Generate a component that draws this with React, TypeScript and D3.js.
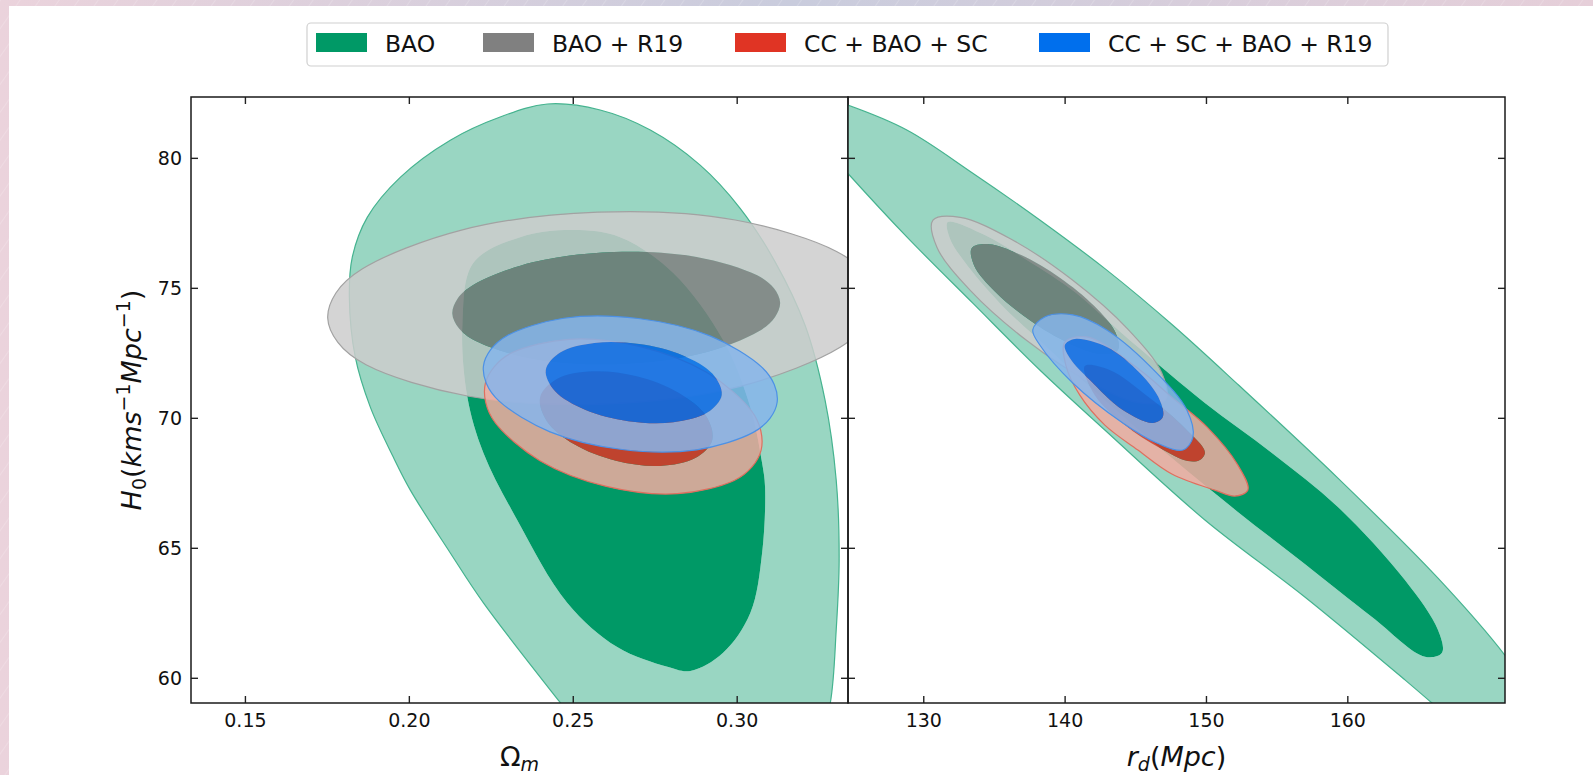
import React from 'react';
import * as d3 from 'd3';

// contour vertices: [x, H0]
// left panel, x = Omega_m
const omBaoOuter = [[0.2421,82.09],[0.2582,81.86],[0.2735,81.09],[0.2887,79.74],[0.3009,78.08],[0.3116,76.01],[0.3207,73.58],[0.3268,70.70],[0.3302,67.63],[0.3311,64.55],[0.3302,61.86],[0.3284,59.05],[0.3238,56.87],[0.3070,55.32],[0.2826,55.32],[0.2613,56.67],[0.2460,59.07],[0.2226,62.90],[0.2125,64.82],[0.2003,67.24],[0.1951,68.51],[0.1881,70.43],[0.1835,72.36],[0.1817,74.67],[0.1826,76.20],[0.1872,77.74],[0.1973,79.28],[0.2125,80.70],[0.2277,81.59]];
const omBaoInner = [[0.2500,77.24],[0.2643,76.97],[0.2805,75.59],[0.2957,73.01],[0.3040,70.43],[0.3076,68.28],[0.3085,67.36],[0.3076,64.82],[0.3040,62.51],[0.2957,60.98],[0.2857,60.28],[0.2787,60.44],[0.2634,61.20],[0.2482,62.90],[0.2329,66.09],[0.2226,68.67],[0.2177,70.82],[0.2162,73.66],[0.2195,75.97],[0.2338,76.97]];
const omR19Outer = [[0.3420,74.63],[0.3395,73.66],[0.3314,72.73],[0.3012,71.24],[0.2596,70.55],[0.2177,70.86],[0.1868,72.06],[0.1782,72.92],[0.1751,73.86],[0.1776,74.82],[0.1857,75.75],[0.2159,77.24],[0.2575,77.93],[0.2994,77.63],[0.3303,76.42],[0.3389,75.57]];
const omR19Inner = [[0.3131,74.45],[0.3115,73.89],[0.3066,73.35],[0.2886,72.48],[0.2637,72.09],[0.2386,72.27],[0.2201,72.98],[0.2150,73.48],[0.2131,74.03],[0.2147,74.60],[0.2196,75.14],[0.2376,76.00],[0.2625,76.40],[0.2876,76.21],[0.3061,75.50],[0.3112,75.00]];
const omCbsOuter = [[0.3073,68.78],[0.3045,68.13],[0.2991,67.61],[0.2818,67.10],[0.2601,67.38],[0.2397,68.38],[0.2262,69.83],[0.2233,70.61],[0.2232,71.35],[0.2260,72.00],[0.2314,72.53],[0.2487,73.04],[0.2704,72.76],[0.2908,71.76],[0.3043,70.30],[0.3072,69.53]];
const omCbsInner = [[0.2924,69.17],[0.2872,68.47],[0.2765,68.17],[0.2630,68.37],[0.2503,69.00],[0.2419,69.90],[0.2399,70.82],[0.2451,71.52],[0.2558,71.81],[0.2694,71.62],[0.2820,70.99],[0.2905,70.09]];
const omAllOuter = [[0.3122,70.63],[0.3100,70.00],[0.3049,69.46],[0.2876,68.79],[0.2649,68.80],[0.2429,69.48],[0.2274,70.66],[0.2235,71.34],[0.2226,72.01],[0.2248,72.64],[0.2298,73.18],[0.2471,73.85],[0.2698,73.84],[0.2919,73.16],[0.3074,71.98],[0.3113,71.30]];
const omAllInner = [[0.2953,70.90],[0.2909,70.22],[0.2805,69.85],[0.2668,69.89],[0.2536,70.33],[0.2444,71.05],[0.2416,71.85],[0.2460,72.53],[0.2564,72.90],[0.2701,72.86],[0.2833,72.43],[0.2925,71.71]];

// right panel, x = r_d (Mpc)
const rdBaoOuter = [[120.38,82.28],[122.29,82.43],[124.62,82.05],[128.80,81.09],[133.47,79.43],[138.21,77.63],[142.95,75.70],[147.62,73.58],[152.29,71.27],[159.30,67.70],[166.38,63.85],[171.12,60.88],[174.66,58.02],[177.84,55.32],[170.76,56.83],[165.95,59.05],[164.04,59.94],[156.96,63.13],[149.89,66.09],[142.81,69.55],[138.21,71.86],[133.47,74.43],[128.80,76.98],[124.62,79.43],[121.93,81.09]];
const rdBaoInner = [[131.70,77.55],[134.32,77.05],[137.29,76.09],[140.69,74.86],[142.95,73.78],[145.15,72.74],[149.89,70.59],[154.63,68.67],[159.30,66.59],[164.04,63.78],[166.38,61.86],[166.66,60.98],[165.46,60.83],[161.71,62.36],[156.96,64.40],[152.22,66.40],[147.55,68.47],[142.81,70.70],[138.92,72.63],[135.38,74.43],[132.90,76.01],[131.84,76.93]];
const rdR19Outer = [[147.11,70.71],[145.19,70.60],[141.58,71.44],[137.24,73.01],[133.34,74.89],[130.93,76.58],[130.65,77.62],[132.58,77.73],[136.19,76.89],[140.52,75.32],[144.42,73.44],[146.83,71.75]];
const rdR19Inner = [[143.73,72.63],[142.51,72.48],[140.23,72.90],[137.51,73.77],[135.07,74.86],[133.57,75.87],[133.40,76.55],[134.61,76.70],[136.89,76.28],[139.62,75.41],[142.06,74.32],[143.56,73.30]];
const rdCbsOuter = [[139.98,72.93],[141.54,73.13],[145.29,71.86],[147.62,70.78],[150.03,69.67],[152.22,68.20],[152.93,67.24],[152.01,67.01],[150.59,67.24],[147.55,67.86],[145.15,68.78],[142.81,69.74],[141.04,70.89],[140.05,72.05]];
const rdCbsInner = [[141.39,72.01],[143.16,71.86],[145.99,70.78],[148.47,69.63],[149.89,68.70],[149.53,68.40],[148.68,68.36],[146.70,68.86],[144.23,69.74],[142.10,70.89]];
const rdAllOuter = [[137.71,73.40],[138.56,73.90],[140.54,73.98],[142.95,73.40],[146.49,71.74],[148.61,70.32],[149.04,69.28],[148.33,68.78],[146.49,69.05],[144.08,69.82],[140.54,71.36],[138.21,72.82]];
const rdAllInner = [[139.98,72.82],[140.69,73.05],[142.95,72.74],[145.29,71.74],[146.70,70.70],[146.91,70.05],[146.21,69.82],[144.08,70.32],[141.75,71.47],[140.33,72.32]];

const seriesNames = ['BAO', 'BAO + R19', 'CC + BAO + SC', 'CC + SC + BAO + R19'];
const seriesColors = ['#009966', '#808080', '#e03424', '#006fed'];
const seriesLight = ['#99d6c2', '#cccccc', '#f1aba1', '#86b5eb'];
const seriesEdge = ['#45b38f', '#a2a2a2', '#df6f5f', '#4c91e6'];
const seriesAlpha = [1, 0.85, 0.85, 0.85];

const omTicks = [0.15, 0.20, 0.25, 0.30];
const rdTicks = [130, 140, 150, 160];
const h0Ticks = [60, 65, 70, 75, 80];

const leftContours = [[omBaoOuter, omBaoInner], [omR19Outer, omR19Inner], [omCbsOuter, omCbsInner], [omAllOuter, omAllInner]];
const rightContours = [[rdBaoOuter, rdBaoInner], [rdR19Outer, rdR19Inner], [rdCbsOuter, rdCbsInner], [rdAllOuter, rdAllInner]];

const W = 1593, H = 775;
const top = 97, bottom = 703;
const xA = 191, xB = 848, xC = 1505;
const font = 'DejaVu Sans';

const yScale = d3.scaleLinear().domain([59.05, 82.36]).range([bottom, top]);
const omScale = d3.scaleLinear().domain([0.1334, 0.3338]).range([xA, xB]);
const rdScale = d3.scaleLinear().domain([124.64, 171.12]).range([xB, xC]);

function Panel({ id, x, contours, ticks, fmt }) {
  const line = d3.line().x(d => x(d[0])).y(d => yScale(d[1])).curve(d3.curveCatmullRomClosed.alpha(0.5));
  const [x0, x1] = x.range();
  const tl = 7;
  return (
    <g>
      <defs>
        <clipPath id={id}><rect x={x0} y={top} width={x1 - x0} height={bottom - top} /></clipPath>
      </defs>
      <g clipPath={`url(#${id})`}>
        {contours.map((c, i) => (
          <g key={i}>
            <path d={line(c[0]) + line(c[1])} fill={seriesLight[i]} fillOpacity={seriesAlpha[i]} fillRule="evenodd" />
            <path d={line(c[1])} fill={seriesColors[i]} fillOpacity={seriesAlpha[i]} />
            <path d={line(c[0])} fill="none" stroke={seriesEdge[i]} strokeWidth={1.2} />
          </g>
        ))}
      </g>
      {ticks.map(t => (
        <g key={t}>
          <line x1={x(t)} x2={x(t)} y1={bottom} y2={bottom - tl} stroke="#222" strokeWidth={1.4} />
          <line x1={x(t)} x2={x(t)} y1={top} y2={top + tl} stroke="#222" strokeWidth={1.4} />
          <text x={x(t)} y={727} textAnchor="middle" fontSize={19} fontFamily={font} fill="#111">{fmt(t)}</text>
        </g>
      ))}
      {h0Ticks.map(t => (
        <g key={t}>
          <line x1={x0} x2={x0 + tl} y1={yScale(t)} y2={yScale(t)} stroke="#222" strokeWidth={1.4} />
          <line x1={x1} x2={x1 - tl} y1={yScale(t)} y2={yScale(t)} stroke="#222" strokeWidth={1.4} />
        </g>
      ))}
      <rect x={x0} y={top} width={x1 - x0} height={bottom - top} fill="none" stroke="#1a1a1a" strokeWidth={1.5} />
    </g>
  );
}

export default function App() {
  const legendX = [316, 483, 735, 1039];
  return (
    <svg width={W} height={H} style={{ position: 'absolute', left: 0, top: 0, display: 'block' }}>
      <defs>
        <linearGradient id="bg" x1="0" x2="1" y1="0" y2="0">
          <stop offset="0" stopColor="#ebd3dc" />
          <stop offset="0.5" stopColor="#c9ccdd" />
          <stop offset="1" stopColor="#e6cfd9" />
        </linearGradient>
        <pattern id="hatch" width="16" height="16" patternUnits="userSpaceOnUse" patternTransform="rotate(35)">
          <line x1="0" y1="0" x2="0" y2="16" stroke="#fff" strokeOpacity="0.35" strokeWidth="1" />
        </pattern>
      </defs>
      <rect width={W} height={H} fill="url(#bg)" />
      <rect width={W} height={H} fill="url(#hatch)" />
      <rect x={9} y={6} width={W - 9} height={H - 6} fill="#fff" />

      <Panel id="clipL" x={omScale} contours={leftContours} ticks={omTicks} fmt={d3.format('.2f')} />
      <Panel id="clipR" x={rdScale} contours={rightContours} ticks={rdTicks} fmt={d3.format('d')} />

      {h0Ticks.map(t => (
        <text key={t} x={182} y={yScale(t)} dy="0.35em" textAnchor="end" fontSize={19} fontFamily={font} fill="#111">{t}</text>
      ))}

      <text x={(xA + xB) / 2} y={766} textAnchor="middle" fontSize={27} fontFamily={font} fill="#111">
        Ω<tspan dy={5} fontSize={19} fontStyle="italic">m</tspan>
      </text>
      <text x={(xB + xC) / 2} y={766} textAnchor="middle" fontSize={27} fontFamily={font} fontStyle="italic" fill="#111">
        r<tspan dy={5} fontSize={19}>d</tspan><tspan dy={-5} fontStyle="normal">(</tspan>Mpc<tspan fontStyle="normal">)</tspan>
      </text>
      <text transform={`translate(141,${(top + bottom) / 2}) rotate(-90)`} textAnchor="middle" fontSize={27} fontFamily={font} fontStyle="italic" fill="#111">
        H<tspan dy={5} fontSize={19} fontStyle="normal">0</tspan><tspan dy={-5} fontStyle="normal">(</tspan>kms<tspan dy={-11} fontSize={19} fontStyle="normal">−1</tspan><tspan dy={11}>Mpc</tspan><tspan dy={-11} fontSize={19} fontStyle="normal">−1</tspan><tspan dy={11} fontStyle="normal">)</tspan>
      </text>

      <rect x={307} y={23} width={1081} height={43} rx={4} fill="#fff" stroke="#d0d0d0" strokeWidth={1.2} />
      {seriesNames.map((n, i) => (
        <g key={n}>
          <rect x={legendX[i]} y={33} width={51} height={19} fill={seriesColors[i]} />
          <text x={legendX[i] + 69} y={51.5} fontSize={23.5} fontFamily={font} fill="#111">{n}</text>
        </g>
      ))}
    </svg>
  );
}
